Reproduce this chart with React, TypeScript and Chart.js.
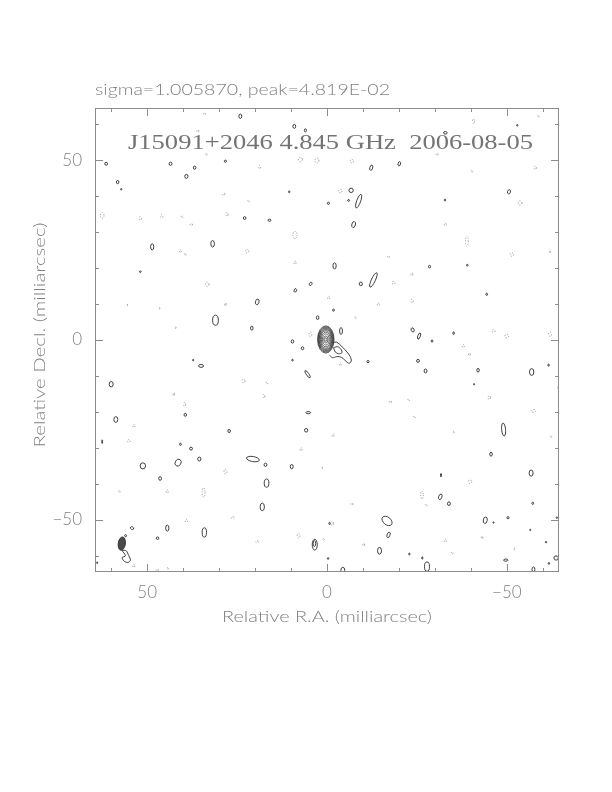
import React, { useEffect, useRef } from "react";
import { Chart, registerables } from "chart.js";
Chart.register(...registerables);

// ---- axis / text values ----
const xMin = -64.5;
const xMax = 64.5;
const yMin = -64.5;
const yMax = 64.5;
const majorTicks = [-50, 0, 50];
const minorTicks = [-60, -40, -30, -20, -10, 10, 20, 30, 40, 60];
const plotTitle = "sigma=1.005870, peak=4.819E-02";
const sourceTitle = "J15091+2046 4.845 GHz  2006-08-05";
const xAxisTitle = "Relative R.A. (milliarcsec)";
const yAxisTitle = "Relative Decl. (milliarcsec)";

// ---- core: nested contour ellipses (mas) ----
const coreCenter = [0.33, 0.14];
const coreRx = [2.3, 2.16, 2.02, 1.87, 1.7, 1.5, 1.25, 0.95, 0.6, 0.3];
const coreRy = [3.8, 3.57, 3.33, 3.08, 2.8, 2.47, 2.06, 1.57, 1.0, 0.5];

// ---- jet contours (mas) ----
const jetOuter = [
  [-1.67, -0.75], [-2.58, -0.56], [-3.5, -1.19], [-4.44, -2.14], [-5.56, -3.33],
  [-6.47, -4.64], [-6.75, -5.83], [-6.19, -6.47], [-5.36, -6.03], [-4.44, -5.08],
  [-3.5, -4.64], [-2.58, -4.64], [-1.56, -4.92], [-0.72, -4.25],
];
const jetInner = [
  [-1.83, -2.14], [-2.94, -1.86], [-3.89, -2.58], [-4.17, -3.53], [-3.22, -3.81],
  [-2.31, -3.33], [-1.83, -2.14],
];

// ---- restoring beam and the contour under it ----
const beam = [57.05, -56.6, 1.0, 1.85, 8];
const beamTail = [
  [57.06, -58.42], [56.03, -60.0], [56.94, -60.47], [56.5, -61.39], [55.39, -61.86],
  [54.64, -61.19], [55.11, -60.0], [55.83, -58.61], [57.06, -58.42],
];

// ---- positive contour islands: [x, y, rx, ry, tilt°] ----
const positiveBlobs = [
  [24.1, 62.2, 0.4, 0.6, 0], [9.1, 59.4, 0.4, 0.55, 0], [6.0, 58.3, 0.3, 0.4, 0],
  [61.4, 49.0, 0.4, 0.4, 0], [43.5, 49.0, 0.4, 0.45, 0], [36.8, 47.9, 0.35, 0.45, 0],
  [28.25, 49.7, 0.3, 0.3, 0], [39.1, 45.5, 0.45, 0.55, 0], [58.2, 43.9, 0.35, 0.45, 0],
  [57.2, 41.9, 0.2, 0.2, 0], [10.5, 41.2, 0.2, 0.25, 0], [-0.4, 38.0, 0.3, 0.3, 0],
  [22.9, 33.9, 0.35, 0.4, 0], [16.0, 33.3, 0.4, 0.3, 0], [48.6, 25.9, 0.45, 0.85, 0],
  [31.8, 26.75, 0.5, 0.9, 0], [51.9, 19.0, 0.25, 0.2, 0], [4.55, 15.6, 0.35, 0.5, 30],
  [8.8, 13.8, 0.35, 0.5, 20], [19.4, 10.6, 0.5, 0.8, 15], [2.6, 6.2, 0.35, 0.5, 0],
  [31.0, 5.5, 0.8, 1.4, 0], [20.9, 3.3, 0.35, 0.55, 0], [9.6, -0.4, 0.35, 0.45, 0],
  [-12.3, 47.9, 0.4, 0.75, 15], [-20.1, 49.0, 0.35, 0.6, 15], [-6.7, 41.6, 0.6, 0.6, 0],
  [-6.0, 38.8, 0.25, 0.25, 0], [-8.8, 38.6, 0.55, 2.0, 20], [-7.4, 32.1, 0.5, 0.85, 15],
  [-50.6, 41.2, 0.4, 0.6, 15], [-32.8, 38.9, 0.2, 0.25, 0], [-2.1, 20.6, 0.45, 0.85, 0],
  [-12.9, 16.7, 0.55, 2.2, 25], [-9.4, 15.6, 0.45, 0.5, 0], [-28.5, 20.4, 0.3, 0.35, 0],
  [-39.0, 20.8, 0.2, 0.25, 0], [-44.4, 12.7, 0.25, 0.3, 0], [-1.8, 8.3, 0.25, 0.3, 0],
  [-3.9, 2.5, 0.4, 0.95, 0], [-23.8, 2.8, 0.4, 0.6, -20], [-25.6, 1.1, 0.35, 0.9, 20],
  [-35.2, 1.9, 0.2, 0.4, 0], [-52.9, 59.7, 0.2, 0.2, 0], [35.0, -7.2, 0.7, 0.4, 0],
  [37.2, -5.6, 0.15, 0.25, 0], [60.0, -12.3, 0.55, 0.75, 0], [58.7, -22.1, 0.55, 0.8, 0],
  [39.4, -20.8, 0.35, 0.4, 0], [27.2, -25.3, 0.35, 0.45, 0], [40.75, -29.0, 0.25, 0.3, 0],
  [37.8, -30.2, 0.4, 0.4, 0], [35.5, -33.1, 0.45, 0.55, 0], [51.2, -35.0, 0.75, 0.85, 0],
  [41.4, -34.1, 0.8, 1.0, 30], [62.5, -28.25, 0.1, 0.5, 0], [20.6, -33.1, 1.8, 0.7, 10],
  [17.1, -34.7, 0.4, 0.45, 0], [9.8, -35.2, 0.4, 0.6, 0], [5.2, -20.2, 0.65, 0.3, 0],
  [5.8, -25.1, 0.45, 0.5, 0], [5.4, -9.5, 0.35, 1.2, -35], [6.8, -2.3, 0.35, 0.4, 0],
  [46.4, -38.5, 0.4, 0.5, 0], [16.8, -39.8, 0.65, 1.15, 0], [18.0, -46.4, 0.6, 1.05, 0],
  [54.2, -52.3, 0.5, 0.35, 30], [44.4, -52.3, 0.45, 0.85, 0], [56.0, -54.4, 0.25, 0.3, 0],
  [47.1, -55.1, 0.35, 0.35, 0], [34.1, -53.5, 0.6, 1.3, 0], [3.4, -56.9, 0.7, 1.5, 0],
  [3.5, -56.6, 0.35, 0.8, 0], [-0.3, -60.75, 0.2, 0.25, 0], [-0.7, -51.0, 0.2, 0.3, 0],
  [63.9, -61.9, 0.15, 0.25, 0], [-11.4, -6.0, 0.3, 0.3, 0], [-25.3, -5.8, 0.4, 0.4, 0],
  [-27.4, -8.6, 0.4, 0.55, 0], [-42.0, -8.4, 0.35, 0.5, 0], [-56.9, -8.9, 0.6, 0.95, 0],
  [-61.6, -7.0, 0.2, 0.3, 0], [-29.2, -0.3, 0.25, 0.3, 0], [-40.9, -12.3, 0.15, 0.2, 0],
  [-49.1, -24.9, 0.55, 1.8, -5], [-45.6, -31.75, 0.35, 0.55, 0], [-56.75, -37.0, 0.55, 0.85, 0],
  [-31.7, -37.6, 0.15, 0.5, 0], [-31.5, -43.6, 0.45, 0.8, 20], [-33.9, -45.5, 0.4, 0.5, 0],
  [-57.2, -45.4, 0.25, 0.3, 0], [-44.0, -50.1, 0.55, 0.9, 10], [-46.3, -50.75, 0.15, 0.2, 0],
  [-50.3, -49.4, 0.3, 0.3, 0], [-16.7, -50.3, 1.6, 1.05, 40], [-17.1, -54.2, 0.4, 0.8, 20],
  [-14.6, -58.6, 0.55, 0.95, 0], [-22.9, -59.5, 0.2, 0.25, 0], [-26.5, -60.6, 0.15, 0.35, 0],
  [-27.8, -63.0, 0.7, 1.3, 0], [-4.4, -64.0, 0.55, 0.8, 0], [-49.7, -61.2, 0.6, 0.3, 0],
  [-57.4, -63.8, 0.4, 0.7, 0], [-63.7, -60.6, 0.6, 0.6, 0], [-61.7, -62.1, 0.2, 0.25, 0],
  [-60.9, -56.2, 0.2, 0.2, 0], [-56.5, -52.8, 0.15, 0.2, 0], [-63.9, -49.4, 0.2, 0.2, 0],
  [-64.5, -13.25, 0.2, 0.6, 0], [9.6, -5.6, 0.2, 0.25, 0], [-32.9, 57.6, 0.5, 0.35, 0],
];

// ---- negative contour islands: [x, y, rx, ry, tilt°] ----
const negativeBlobs = [
  [34.0, 62.9, 0.25, 0.3, 0], [35.9, 58.1, 0.3, 0.3, 0], [33.5, 51.6, 0.2, 0.3, 0],
  [7.4, 50.2, 0.55, 0.6, 0], [2.8, 49.9, 0.55, 0.7, 0], [18.7, 48.1, 0.3, 0.45, 0],
  [28.7, 40.5, 0.3, 0.35, 0], [21.8, 38.6, 0.2, 0.3, 0], [62.5, 34.6, 0.5, 0.8, 0],
  [51.9, 33.8, 0.35, 0.45, 0], [46.0, 34.4, 0.35, 0.4, 0], [40.3, 34.25, 0.2, 0.3, 0],
  [37.7, 32.1, 0.3, 0.3, 0], [27.8, 34.9, 0.3, 0.5, 0], [8.9, 29.2, 0.6, 1.0, 0],
  [40.75, 24.7, 0.3, 0.4, 0], [39.4, 23.8, 0.2, 0.3, 0], [22.2, 24.7, 0.45, 0.5, 0],
  [8.9, 21.5, 0.3, 0.4, 0], [33.3, 15.5, 0.5, 0.6, 0], [28.25, 9.9, 0.2, 0.4, 0],
  [55.6, 9.7, 0.15, 0.2, 0], [46.6, 8.8, 0.15, 0.2, 0], [42.1, 3.4, 0.15, 0.2, 0],
  [-0.45, 11.75, 0.3, 0.4, 0], [4.6, 1.6, 0.4, 0.6, 0], [-40.7, 60.8, 0.3, 0.6, 0],
  [-58.8, 62.2, 0.2, 0.3, 0], [-6.9, 49.7, 0.45, 0.5, 0], [-30.6, 51.6, 0.3, 0.3, 0],
  [-57.9, 47.9, 0.3, 0.5, 0], [-40.3, 46.9, 0.2, 0.3, 0], [-3.7, 41.4, 0.5, 0.5, 0],
  [-53.7, 38.1, 0.5, 0.6, 0], [-32.9, 32.1, 0.3, 0.35, 0], [-38.9, 27.5, 0.4, 1.4, 0],
  [-51.4, 23.8, 0.5, 0.5, 0], [-62.0, 24.7, 0.2, 0.5, 0], [-17.1, 23.1, 0.25, 0.3, 0],
  [-23.6, 18.25, 0.3, 0.35, 0], [-18.5, 15.9, 0.4, 0.4, 0], [-23.6, 10.8, 0.35, 0.45, 0],
  [-14.3, 9.9, 0.35, 0.35, 0], [-7.9, 6.2, 0.2, 0.25, 0], [-46.3, 2.5, 0.4, 0.4, 0],
  [-50.0, 1.1, 0.5, 0.5, 0], [-62.0, 1.6, 0.4, 0.6, 0], [23.2, -11.4, 0.4, 0.5, 0],
  [16.7, -12.0, 0.2, 0.3, 0], [42.6, -15.1, 0.2, 0.4, 0], [39.6, -17.9, 0.3, 0.5, 0],
  [17.6, -15.6, 0.3, 0.5, 0], [53.7, -23.9, 0.3, 0.4, 0], [55.1, -28.1, 0.4, 0.4, 0],
  [7.2, -30.4, 0.3, 0.4, 0], [28.25, -36.6, 0.4, 0.6, 0], [34.3, -42.4, 0.4, 1.3, 0],
  [44.4, -42.1, 0.3, 0.4, 0], [57.7, -42.1, 0.2, 0.3, 0], [26.2, -49.4, 0.4, 0.3, 0],
  [39.1, -50.3, 0.3, 0.4, 0], [7.9, -54.4, 0.4, 0.6, 0], [0.9, -55.4, 0.2, 0.3, 0],
  [19.4, -56.1, 0.4, 0.3, 0], [53.7, -62.8, 0.3, 0.4, 0], [47.2, -64.0, 0.3, 0.3, 0],
  [44.3, -63.5, 0.2, 0.2, 0], [-37.9, -1.7, 0.3, 0.4, 0], [-39.6, -4.0, 0.25, 0.35, 0],
  [-17.6, -17.2, 0.3, 0.3, 0], [-22.7, -16.7, 0.2, 0.3, 0], [-24.3, -21.4, 0.2, 0.3, 0],
  [-45.1, -16.0, 0.35, 0.5, 0], [-57.4, -19.7, 0.6, 0.4, 0], [-1.7, -26.5, 0.3, 0.4, 0],
  [-35.2, -25.6, 0.2, 0.2, 0], [-62.3, -26.9, 0.2, 0.3, 0], [1.4, -35.5, 0.15, 0.2, 0],
  [-39.8, -39.4, 0.45, 0.5, 0], [-26.4, -43.1, 0.4, 1.1, 0], [-27.6, -45.9, 0.2, 0.3, 0],
  [-6.9, -45.6, 0.3, 0.3, 0], [-1.4, -51.0, 0.4, 0.5, 0], [-10.2, -56.9, 0.25, 0.35, 0],
  [-32.9, -55.8, 0.3, 0.4, 0], [-34.8, -59.2, 0.2, 0.3, 0], [-43.1, -54.9, 0.2, 0.35, 0],
  [-52.1, -58.1, 0.2, 0.2, 0], [-3.7, -6.75, 0.3, 0.4, 0],
];

const SOLID = "#2a2a2a";
const DASHED = "#8a8a8a";
const FRAME = "#8c8c8c";
const TEXT = "#808080";
const TEXT_FONT = '300 16px Lato, "DejaVu Sans", sans-serif';

const toEllipse = (b: number[]) => ({ x: b[0], y: b[1], rx: b[2], ry: b[3], a: b[4] });
const toXY = (p: number[]) => ({ x: p[0], y: p[1] });

function fittedText(ctx: CanvasRenderingContext2D, text: string, x: number, y: number, width: number, font: string, color: string) {
  ctx.save();
  ctx.font = font;
  ctx.fillStyle = color;
  ctx.textAlign = "left";
  const w = ctx.measureText(text).width;
  ctx.translate(x - width / 2, y);
  ctx.scale(width / w, 1);
  ctx.fillText(text, 0, 0);
  ctx.restore();
}

const contourPlugin = {
  id: "contourPlugin",
  afterDatasetsDraw(chart: any) {
    const { ctx, chartArea, scales } = chart;
    const xs = scales.x;
    const ys = scales.y;
    ctx.save();
    ctx.beginPath();
    ctx.rect(chartArea.left, chartArea.top, chartArea.right - chartArea.left, chartArea.bottom - chartArea.top);
    ctx.clip();
    chart.data.datasets.forEach((ds: any) => {
      if (!ds.kind) return;
      ds.data.forEach((p: any) => {
        const cx = xs.getPixelForValue(p.x);
        const cy = ys.getPixelForValue(p.y);
        const rx = Math.abs(xs.getPixelForValue(p.x + p.rx) - cx);
        const ry = Math.abs(ys.getPixelForValue(p.y + p.ry) - cy);
        ctx.beginPath();
        ctx.ellipse(cx, cy, Math.max(rx, 0.4), Math.max(ry, 0.4), (p.a * Math.PI) / 180, 0, Math.PI * 2);
        if (ds.kind === "dashed") {
          ctx.setLineDash([1, 1.6]);
          ctx.strokeStyle = DASHED;
        } else {
          ctx.setLineDash([]);
          ctx.strokeStyle = SOLID;
        }
        ctx.lineWidth = ds.lineW || 0.9;
        if (ds.kind === "filled") {
          ctx.fillStyle = "#4a4a4a";
          ctx.fill();
        }
        ctx.stroke();
      });
    });
    ctx.restore();
  },
  afterDraw(chart: any) {
    const { ctx, chartArea, scales } = chart;
    const xs = scales.x;
    const ys = scales.y;
    const { left, right, top, bottom } = chartArea;
    ctx.save();
    ctx.strokeStyle = FRAME;
    ctx.lineWidth = 1;
    ctx.setLineDash([]);
    ctx.strokeRect(left + 0.5, top + 0.5, right - left - 1, bottom - top - 1);
    const tick = (v: number, len: number) => {
      const px = Math.round(xs.getPixelForValue(v)) + 0.5;
      const py = Math.round(ys.getPixelForValue(v)) + 0.5;
      ctx.beginPath();
      ctx.moveTo(px, bottom); ctx.lineTo(px, bottom - len);
      ctx.moveTo(px, top); ctx.lineTo(px, top + len);
      ctx.moveTo(left, py); ctx.lineTo(left + len, py);
      ctx.moveTo(right, py); ctx.lineTo(right - len, py);
      ctx.stroke();
    };
    majorTicks.forEach((v) => tick(v, 8));
    minorTicks.forEach((v) => tick(v, 4));
    // titles
    ctx.textBaseline = "alphabetic";
    fittedText(ctx, plotTitle, left + 147.5, 95, 295, TEXT_FONT, TEXT);
    fittedText(ctx, sourceTitle, 330.5, 149, 405, '22px "Liberation Serif"', "#747474");
    fittedText(ctx, xAxisTitle, (left + right) / 2, 622, 210, TEXT_FONT, TEXT);
    ctx.save();
    ctx.translate(45, 335);
    ctx.rotate(-Math.PI / 2);
    fittedText(ctx, yAxisTitle, 0, 0, 225, TEXT_FONT, TEXT);
    ctx.restore();
    ctx.restore();
  },
};

const fmt = (v: any) => (Number(v) < 0 ? "\u2212" + Math.abs(Number(v)) : String(v));
const tickFont = { family: 'Lato, "DejaVu Sans", sans-serif', size: 17, weight: "300" };

export default function App() {
  const ref = useRef<HTMLCanvasElement>(null);
  useEffect(() => {
    if (!ref.current) return;
    const coreData = coreRx.map((rx, i) => ({ x: coreCenter[0], y: coreCenter[1], rx, ry: coreRy[i], a: 0 }));
    const chart = new Chart(ref.current, {
      type: "scatter",
      data: {
        datasets: [
          { label: "core", data: coreData, kind: "solid", lineW: 0.7, pointRadius: 0 } as any,
          { label: "positive", data: positiveBlobs.map(toEllipse), kind: "solid", pointRadius: 0 } as any,
          { label: "negative", data: negativeBlobs.map(toEllipse), kind: "dashed", pointRadius: 0 } as any,
          { label: "beam", data: [toEllipse(beam)], kind: "filled", pointRadius: 0 } as any,
          { label: "jetOuter", data: jetOuter.map(toXY), showLine: true, pointRadius: 0, borderColor: SOLID, borderWidth: 0.9, tension: 0.3 },
          { label: "jetInner", data: jetInner.map(toXY), showLine: true, pointRadius: 0, borderColor: SOLID, borderWidth: 0.9, tension: 0.3 },
          { label: "beamTail", data: beamTail.map(toXY), showLine: true, pointRadius: 0, borderColor: SOLID, borderWidth: 0.9, tension: 0.3 },
        ],
      },
      options: {
        responsive: false,
        animation: false,
        devicePixelRatio: 1,
        layout: { padding: { top: 108, right: 53, left: 0, bottom: 0 } },
        plugins: { legend: { display: false }, tooltip: { enabled: false }, title: { display: false } },
        scales: {
          x: {
            type: "linear", min: xMin, max: xMax, reverse: true,
            grid: { display: false, drawTicks: false }, border: { display: false },
            afterBuildTicks: (s: any) => { s.ticks = majorTicks.map((v) => ({ value: v })); },
            afterFit: (s: any) => { s.height = 220; },
            ticks: { padding: 10, color: TEXT, font: tickFont, callback: fmt, maxRotation: 0 },
          },
          y: {
            type: "linear", min: yMin, max: yMax,
            grid: { display: false, drawTicks: false }, border: { display: false },
            afterBuildTicks: (s: any) => { s.ticks = majorTicks.map((v) => ({ value: v })); },
            afterFit: (s: any) => { s.width = 95; },
            ticks: { padding: 13, color: TEXT, font: tickFont, callback: fmt },
          },
        },
      } as any,
      plugins: [contourPlugin],
    });
    return () => chart.destroy();
  }, []);
  return (
    <div style={{ position: "absolute", left: 0, top: 0, width: 612, height: 792, background: "#fff" }}>
      <canvas ref={ref} width={612} height={792} />
    </div>
  );
}
